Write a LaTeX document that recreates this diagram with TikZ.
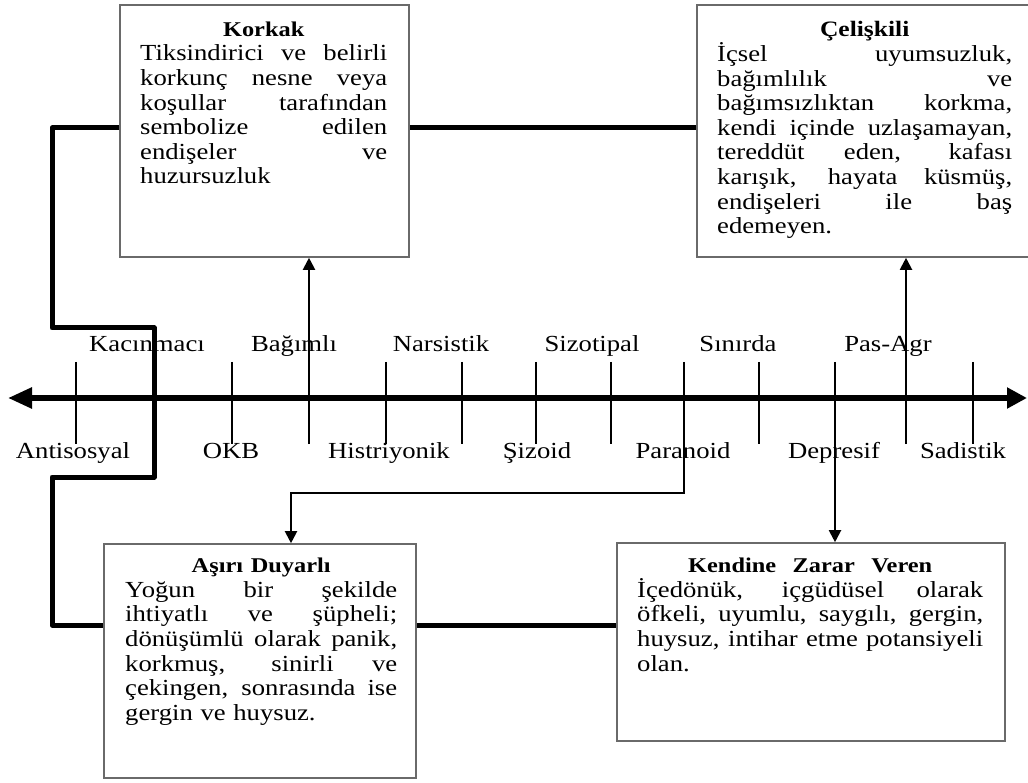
\documentclass[tikz,border=0pt]{standalone}
\usepackage{fontspec}
\setmainfont{Liberation Serif}[FakeStretch=1.16]
\usetikzlibrary{arrows.meta}
\setlength{\parindent}{0pt}
% one justified line, one left-aligned closing line, one centred bold heading
\newcommand\jline[1]{\hbox to\linewidth{\spaceskip=\fontdimen2\font plus 1fil\relax #1}\par}
\newcommand\lline[1]{\hbox to\linewidth{#1\hfil}\par}
\newcommand\tline[2][21]{\hbox to\linewidth{\hfil\fontsize{#1}{24.6}\selectfont\bfseries #2\hfil}\par}
\definecolor{boxgray}{HTML}{6A6A6A}

\begin{document}
\begin{tikzpicture}[x=1pt, y=-1pt,
  box/.style={draw=boxgray, line width=1.6pt, inner sep=0pt},
  txt/.style={inner sep=0pt, anchor=north west, font=\fontsize{23}{24.6}\selectfont},
  lbl/.style={anchor=base, inner sep=0pt, font=\fontsize{23}{24}\selectfont},
  heavy/.style={line width=5pt, line join=round},
  conn/.style={line width=2pt},
  tickline/.style={line width=2pt},
  tip/.style={-{Triangle[length=12pt,width=12pt]}}]
\useasboundingbox (0,0) rectangle (1028,783);

% boxes
\node[box, minimum width=289, minimum height=252] (korkak) at (264.5,131) {};
\node[box, minimum width=343, minimum height=252] (celiskili) at (868.5,131) {};
\node[box, minimum width=312, minimum height=234] (asiri) at (260,661) {};
\node[box, minimum width=388, minimum height=198] (kendine) at (811,642) {};

% box texts
\node[txt, text width=247] (korkaktxt) at (140,21.5) {%
  \tline{Korkak}
  \jline{Tiksindirici ve belirli}
  \jline{korkunç nesne veya}
  \jline{koşullar tarafından}
  \jline{sembolize edilen}
  \jline{endişeler ve}
  \lline{huzursuzluk}};
\node[txt, text width=295] (celiskilitxt) at (717,21.5) {%
  \tline[22]{Çelişkili}
  \jline{İçsel uyumsuzluk,}
  \jline{bağımlılık ve}
  \jline{bağımsızlıktan korkma,}
  \jline{kendi içinde uzlaşamayan,}
  \jline{tereddüt eden, kafası}
  \jline{karışık, hayata küsmüş,}
  \jline{endişeleri ile baş}
  \lline{edemeyen.}};
\node[txt, text width=272] (asiritxt) at (125,558) {%
  \tline{Aşırı Duyarlı}
  \jline{Yoğun bir şekilde}
  \jline{ihtiyatlı ve şüpheli;}
  \jline{dönüşümlü olarak panik,}
  \jline{korkmuş, sinirli ve}
  \jline{çekingen, sonrasında ise}
  \lline{gergin ve huysuz.}};
\node[txt, text width=346] (kendinetxt) at (637,558) {%
  \hbox to\linewidth{\hfil\fontsize{21}{24.6}\selectfont\bfseries
    \hbox to 244pt{\spaceskip=\fontdimen2\font plus 1fil\relax Kendine Zarar Veren}\hfil}\par
  \jline{İçedönük, içgüdüsel olarak}
  \jline{öfkeli, uyumlu, saygılı, gergin,}
  \jline{huysuz, intihar etme potansiyeli}
  \lline{olan.}};

% scale labels
\node[lbl] (kac) at (147,352) {Kacınmacı};
\node[lbl] (bag) at (294,352) {Bağımlı};
\node[lbl] (nar) at (441,352) {Narsistik};
\node[lbl] (siz) at (592,352) {Sizotipal};
\node[lbl] (sin) at (738,352) {Sınırda};
\node[lbl] (pas) at (888,352) {Pas-Agr};
\node[lbl] (ant) at (73,458) {Antisosyal};
\node[lbl] (okb) at (231,458) {OKB};
\node[lbl] (his) at (389,458) {Histriyonik};
\node[lbl] (siz2) at (537,458) {Şizoid};
\node[lbl] (par) at (683,458) {Paranoid};
\node[lbl] (dep) at (834,458) {Depresif};
\node[lbl] (sad) at (963,458) {Sadistik};

% main scale
\coordinate (axL) at (8,398);
\coordinate (axR) at (1027,398);
\draw[line width=5.5pt, {Triangle[length=24pt,width=20pt]}-{Triangle[length=20pt,width=20pt]}] (axL) -- (axR);
\foreach \x in {76,232,386,462,536,611,759,973}
  \draw[tickline] (\x,362) -- (\x,444);

% heavy links between the four boxes
\coordinate (yTop) at (0,128);
\coordinate (yBot) at (0,625);
\coordinate (h1) at (52,128);
\coordinate (h2) at (52,328);
\coordinate (h3) at (154,328);
\coordinate (h4) at (154,477);
\coordinate (h5) at (52,477);
\coordinate (h6) at (52,625);
\draw[heavy] (korkak.east |- yTop) -- (celiskili.west |- yTop);
\draw[heavy] (korkak.west |- yTop) -- (h1) -- (h2) -- (h3) -- (h4) -- (h5) -- (h6) -- (asiri.west |- yBot);
\draw[heavy] (asiri.east |- yBot) -- (kendine.west |- yBot);

% arrows from the scale to the boxes
\coordinate (tBag) at (309,444);
\draw[conn, tip] (tBag) -- (tBag |- korkak.south);
\coordinate (tPas) at (906,444);
\draw[conn, tip] (tPas) -- (tPas |- celiskili.south);
\coordinate (tPar) at (684,362);
\coordinate (pBend) at (291,493);
\draw[conn, tip] (tPar) |- (pBend) -- (pBend |- asiri.north);
\coordinate (tDep) at (835,362);
\draw[conn, tip] (tDep) -- (tDep |- kendine.north);
\end{tikzpicture}
\end{document}
